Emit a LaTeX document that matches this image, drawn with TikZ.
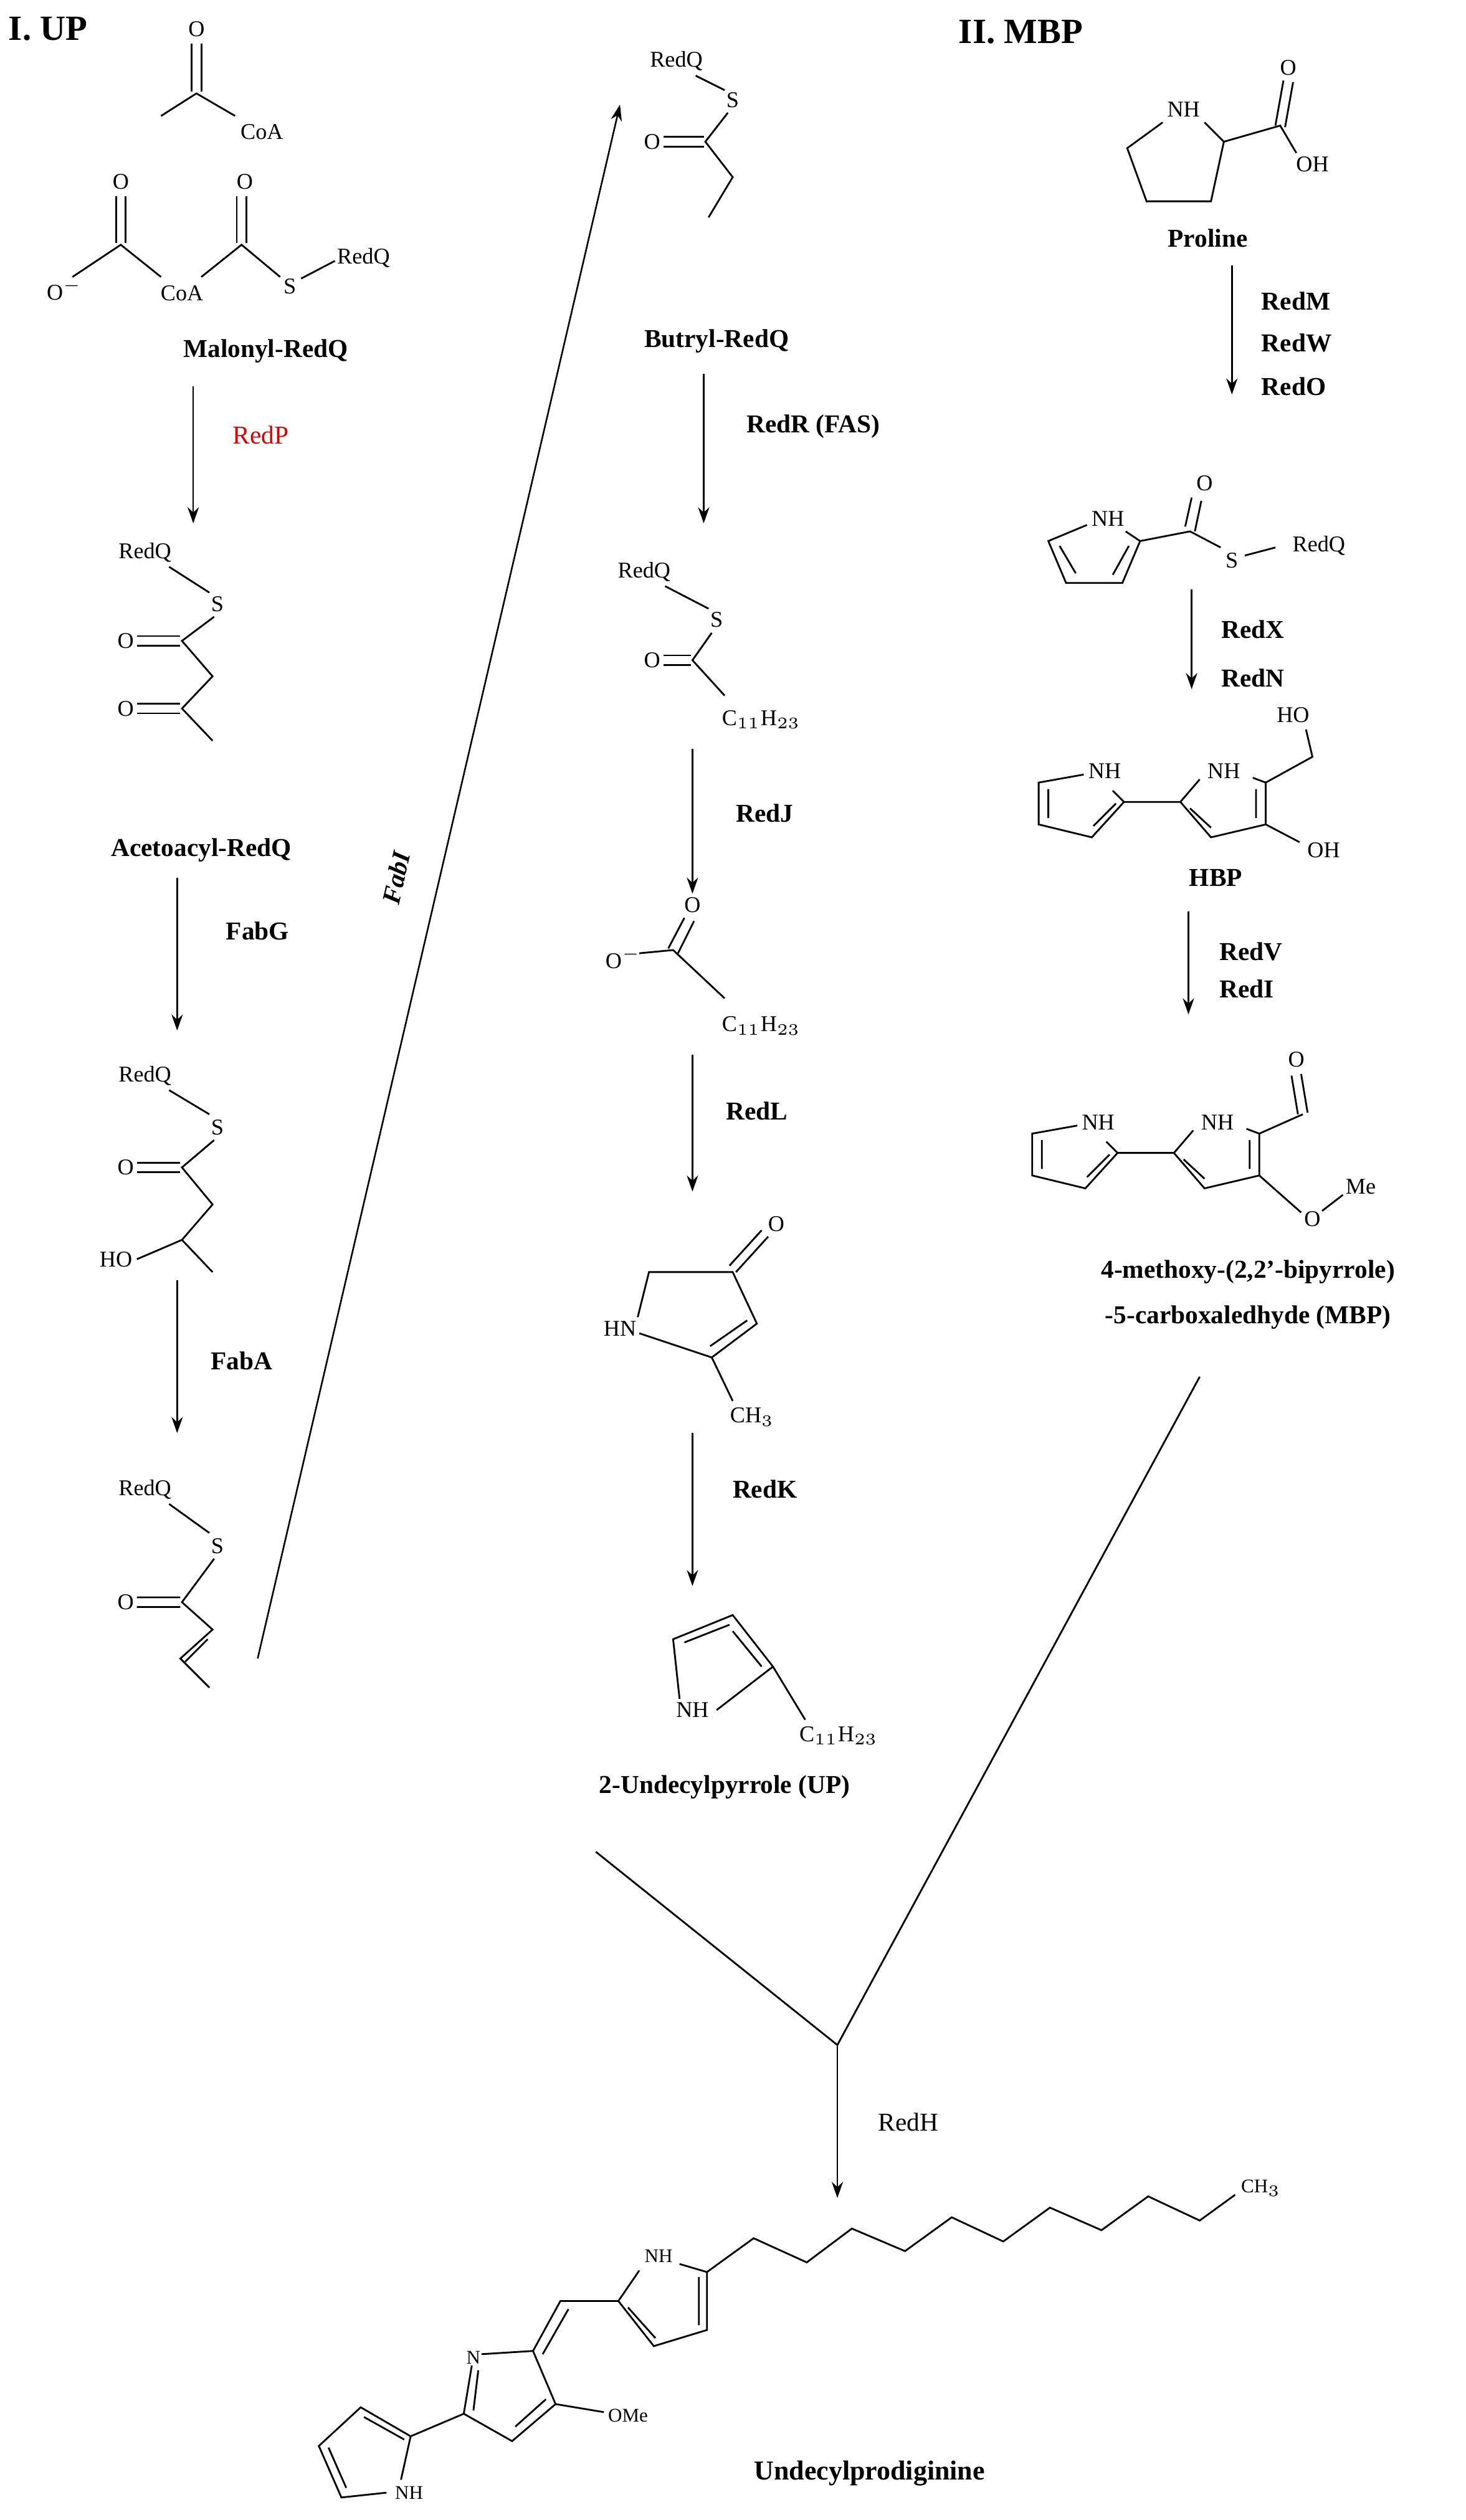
\documentclass[tikz,border=0pt]{standalone}
\usepackage{fontspec}
\setmainfont{Liberation Serif}
\usetikzlibrary{arrows.meta}
\begin{document}
\begin{tikzpicture}[x=0.5pt,y=-0.5pt,
  bond/.style={line width=0.55pt},
  rxn/.style={line width=0.5pt,-{Stealth[length=5pt,width=3.5pt]}},
  lbl/.style={font=\fontsize{8}{9}\selectfont\bfseries,inner sep=0.5pt},
  atm/.style={font=\fontsize{7}{8}\selectfont,inner sep=0.5pt},
  ttl/.style={font=\fontsize{11}{12}\selectfont\bfseries,inner sep=0}]
\useasboundingbox (0,0) rectangle (910,1565);
\fill[white] (0,0) rectangle (910,1565);
% ---------- titles
\node[ttl,anchor=west] (t1) at (5,18) {I. UP};
\node[ttl,anchor=west] (t2) at (595,20) {II. MBP};
% ---------- acetyl-CoA
\node[atm] (a1o) at (122,18) {O};
\node[atm,anchor=west] (a1coa) at (148,82) {CoA};
\draw[bond] (100,72)--(122,58)--(146,72);
\draw[bond] (119,57)--(119,27) (125,57)--(125,27);
% ---------- malonyl
\node[atm] (mo1) at (75,113) {O};
\node[atm] (mo2) at (152,113) {O};
\node[atm] (mom) at (40,180) {O$^{-}$};
\node[atm] (mcoa) at (113,182) {CoA};
\node[atm] (ms) at (180,178) {S};
\node[atm,anchor=west] (mrq) at (208,160) {RedQ};
\draw[bond] (45,172)--(75,152)--(100,172) (125,172)--(150,152)--(174,172) (187,173)--(208,162);
\draw[bond] (72,151)--(72,122) (78,151)--(78,122) (147,151)--(147,122) (153,151)--(153,122);
\node[lbl] (malo) at (165,218) {Malonyl-RedQ};
\coordinate (r1a) at (120,240); \coordinate (r1b) at (120,325);
\draw[rxn] (r1a)--(r1b);
\node[lbl,text=red!85!black,font=\fontsize{8}{9}\selectfont] (redp) at (162,270) {RedP};
% ---------- acetoacyl
\node[atm] (aqr) at (90,343) {RedQ};
\node[atm] (aqs) at (135,375) {S};
\node[atm] (aqo1) at (78,398) {O};
\node[atm] (aqo2) at (78,440) {O};
\draw[bond] (105,352)--(130,368) (133,383)--(113,398)--(132,420)--(113,440)--(132,460);
\draw[bond] (85,395)--(112,395) (85,401)--(112,401) (85,437)--(112,437) (85,443)--(112,443);
\node[lbl] (aca) at (125,528) {Acetoacyl-RedQ};
\coordinate (r2a) at (110,545); \coordinate (r2b) at (110,640);
\draw[rxn] (r2a)--(r2b);
\node[lbl] (fabg) at (160,578) {FabG};
% ---------- hydroxybutyryl
\node[atm] (hqr) at (90,668) {RedQ};
\node[atm] (hqs) at (135,700) {S};
\node[atm] (hqo) at (78,725) {O};
\node[atm] (hqho) at (72,782) {HO};
\draw[bond] (105,677)--(130,692) (133,708)--(113,725)--(132,748)--(113,770)--(132,790) (85,782)--(113,770);
\draw[bond] (85,722)--(112,722) (85,728)--(112,728);
\coordinate (r3a) at (110,795); \coordinate (r3b) at (110,890);
\draw[rxn] (r3a)--(r3b);
\node[lbl] (faba) at (150,845) {FabA};
% ---------- crotonyl
\node[atm] (cqr) at (90,925) {RedQ};
\node[atm] (cqs) at (135,960) {S};
\node[atm] (cqo) at (78,995) {O};
\draw[bond] (105,934)--(130,952) (133,968)--(113,995)--(132,1012)--(112,1030)--(130,1048);
\draw[bond] (85,992)--(112,992) (85,998)--(112,998) (129,1018)--(115,1032);
% ---------- FabI
\coordinate (r4a) at (160,1030); \coordinate (r4b) at (385,65);
\draw[rxn] (r4a)--(r4b);
\node[lbl,rotate=77,font=\fontsize{8}{9}\selectfont\bfseries\itshape] (fabi) at (246,545) {FabI};
% ---------- butyryl
\node[atm] (bqr) at (420,38) {RedQ};
\node[atm] (bqs) at (455,62) {S};
\node[atm] (bqo) at (405,88) {O};
\draw[bond] (432,47)--(450,56) (452,70)--(438,88)--(455,110)--(440,135);
\draw[bond] (412,85)--(437,85) (412,91)--(437,91);
\node[lbl] (buty) at (445,212) {Butryl-RedQ};
\coordinate (r5a) at (437,232); \coordinate (r5b) at (437,325);
\draw[rxn] (r5a)--(r5b);
\node[lbl] (redr) at (505,265) {RedR (FAS)};
% ---------- C11 thioester
\node[atm] (tqr) at (400,355) {RedQ};
\node[atm] (tqs) at (445,385) {S};
\node[atm] (tqo) at (405,410) {O};
\node[atm,anchor=west] (tqc) at (447,447) {C$_{11}$H$_{23}$};
\draw[bond] (413,364)--(440,378) (442,393)--(430,410)--(450,432);
\draw[bond] (412,407)--(429,407) (412,413)--(429,413);
\coordinate (r6a) at (430,465); \coordinate (r6b) at (430,555);
\draw[rxn] (r6a)--(r6b);
\node[lbl] (redj) at (475,505) {RedJ};
% ---------- acid
\node[atm] (aco1) at (387,595) {O$^{-}$};
\node[atm] (aco2) at (430,562) {O};
\node[atm,anchor=west] (acc) at (447,637) {C$_{11}$H$_{23}$};
\draw[bond] (397,592)--(418,590)--(450,620) (415,589)--(425,570) (421,592)--(431,572);
\coordinate (r7a) at (430,655); \coordinate (r7b) at (430,740);
\draw[rxn] (r7a)--(r7b);
\node[lbl] (redl) at (470,690) {RedL};
% ---------- pyrrolinone
\node[atm] (pnhn) at (385,825) {HN};
\node[atm] (pno) at (482,760) {O};
\node[atm,anchor=west] (pnc) at (452,880) {CH$_3$};
\draw[bond] (396,818)--(403,790)--(455,790)--(470,822)--(442,843)--(397,828);
\draw[bond] (457,790)--(477,768) (453,786)--(473,764);
\draw[bond] (464,820)--(441,836);
\draw[bond] (442,843)--(455,870);
\coordinate (r8a) at (430,890); \coordinate (r8b) at (430,985);
\draw[rxn] (r8a)--(r8b);
\node[lbl] (redk) at (475,925) {RedK};
% ---------- undecylpyrrole
\node[atm] (upnh) at (430,1062) {NH};
\node[atm,anchor=west] (upc) at (495,1078) {C$_{11}$H$_{23}$};
\draw[bond] (422,1055)--(418,1018)--(455,1003)--(480,1035)--(445,1062);
\draw[bond] (425,1020)--(453,1009) (473,1035)--(455,1013);
\draw[bond] (480,1035)--(500,1068);
\node[lbl] (upl) at (450,1110) {2-Undecylpyrrole (UP)};
% ---------- proline
\node[atm] (prnh) at (735,68) {NH};
\node[atm] (pro) at (800,42) {O};
\node[atm] (proh) at (815,102) {OH};
\draw[bond] (722,76)--(700,92)--(712,125)--(752,125)--(760,88)--(748,76);
\draw[bond] (760,88)--(795,78)--(805,95) (792,78)--(797,50) (798,79)--(803,51);
\node[lbl] (prol) at (750,148) {Proline};
\coordinate (r9a) at (765,165); \coordinate (r9b) at (765,245);
\draw[rxn] (r9a)--(r9b);
\node[lbl,anchor=west] (rm) at (782,187) {RedM};
\node[lbl,anchor=west] (rw) at (782,213) {RedW};
\node[lbl,anchor=west] (ro) at (782,240) {RedO};
% ---------- pyrrole thioester
\node[atm] (ptnh) at (688,322) {NH};
\node[atm] (pto) at (748,300) {O};
\node[atm] (pts) at (765,348) {S};
\node[atm] (ptr) at (819,339) {RedQ};
\draw[bond] (675,326)--(651,336)--(662,362)--(697,362)--(708,336)--(699,330);
\draw[bond] (658,339)--(668,356) (701,339)--(691,357);
\draw[bond] (708,336)--(739,330)--(758,340) (773,345)--(792,340);
\draw[bond] (736,327)--(740,309) (742,330)--(746,311);
\coordinate (r10a) at (740,366); \coordinate (r10b) at (740,428);
\draw[rxn] (r10a)--(r10b);
\node[lbl,anchor=west] (rx) at (757,391) {RedX};
\node[lbl,anchor=west] (rn) at (757,421) {RedN};
% ---------- HBP
\node[atm] (h1nh) at (686,479) {NH};
\node[atm] (h2nh) at (760,479) {NH};
\node[atm] (hho) at (803,444) {HO};
\node[atm] (hoh) at (822,528) {OH};
\draw[bond] (673,481)--(645,486)--(645,512)--(678,520)--(698,498)--(691,491);
\draw[bond] (651,490)--(651,508) (679,513)--(693,499);
\draw[bond] (698,498)--(733,498)--(752,520)--(786,512)--(786,486)--(778,483) (745,484)--(733,498);
\draw[bond] (739,502)--(752,514) (780,490)--(780,508);
\draw[bond] (786,486)--(815,470)--(811,453) (786,512)--(807,523);
\node[lbl] (hbpl) at (755,545) {HBP};
\coordinate (r11a) at (738,566); \coordinate (r11b) at (738,630);
\draw[rxn] (r11a)--(r11b);
\node[lbl,anchor=west] (rv) at (756,591) {RedV};
\node[lbl,anchor=west] (ri) at (756,614) {RedI};
% ---------- MBP
\node[atm] (m1nh) at (682,697) {NH};
\node[atm] (m2nh) at (756,697) {NH};
\node[atm] (mo) at (805,658) {O};
\node[atm] (mox) at (815,757) {O};
\node[atm] (mme) at (845,737) {Me};
\draw[bond] (669,699)--(641,704)--(641,730)--(674,738)--(694,716)--(687,709);
\draw[bond] (647,708)--(647,726) (675,731)--(689,717);
\draw[bond] (694,716)--(729,716)--(748,738)--(782,730)--(782,704)--(774,701) (741,702)--(729,716);
\draw[bond] (735,720)--(748,732) (776,708)--(776,726);
\draw[bond] (782,704)--(809,692) (806,692)--(802,668) (812,691)--(808,667);
\draw[bond] (782,730)--(808,753) (821,752)--(834,742);
\node[lbl] (mbp1) at (775,790) {4-methoxy-(2,2'-bipyrrole)};
\node[lbl] (mbp2) at (775,818) {-5-carboxaledhyde (MBP)};
% ---------- convergence
\coordinate (cm) at (745,855);
\coordinate (cu) at (370,1150);
\coordinate (cj) at (520,1270);
\coordinate (ce) at (520,1365);
\draw[bond] (cm)--(cj) (cu)--(cj);
\draw[rxn] (cj)--(ce);
\node[atm,font=\fontsize{8}{9}\selectfont] (redh) at (564,1318) {RedH};
% ---------- undecylprodiginine
\node[atm,font=\fontsize{6}{7}\selectfont] (pnh1) at (254,1548) {NH};
\node[atm,font=\fontsize{6}{7}\selectfont] (pn2) at (294,1464) {N};
\node[atm,font=\fontsize{6}{7}\selectfont] (pome) at (390,1500) {OMe};
\node[atm,font=\fontsize{6}{7}\selectfont] (pnh3) at (409,1401) {NH};
\node[atm,font=\fontsize{6}{7}\selectfont] (pch3) at (783,1359) {CH$_3$};
% left pyrrole
\draw[bond] (240,1548)--(212,1551)--(198,1519)--(224,1495)--(255,1513)--(249,1540);
\draw[bond] (204,1520)--(215,1545) (226,1501)--(251,1515);
% middle ring
\draw[bond] (255,1513)--(288,1499)--(293,1469) (299,1462)--(331,1460)--(345,1493)--(318,1516)--(288,1499);
\draw[bond] (294,1497)--(297,1472) (339,1490)--(320,1507);
\draw[bond] (345,1493)--(375,1498);
% methine
\draw[bond] (331,1460)--(348,1429)--(384,1429) (337,1462)--(353,1434);
% right pyrrole
\draw[bond] (384,1429)--(406,1457)--(439,1447)--(439,1411)--(422,1406) (397,1410)--(384,1429);
\draw[bond] (390,1433)--(407,1452) (434,1444)--(434,1414);
% chain
\draw[bond] (439,1411)--(468,1390)--(501,1405)--(529,1384)--(562,1398)--(591,1377)--(623,1392)--(652,1371)--(684,1385)--(713,1364)--(745,1379)--(767,1363);
\node[lbl,font=\fontsize{8.5}{9}\selectfont\bfseries] (undp) at (540,1536) {Undecylprodiginine};
\end{tikzpicture}
\end{document}
